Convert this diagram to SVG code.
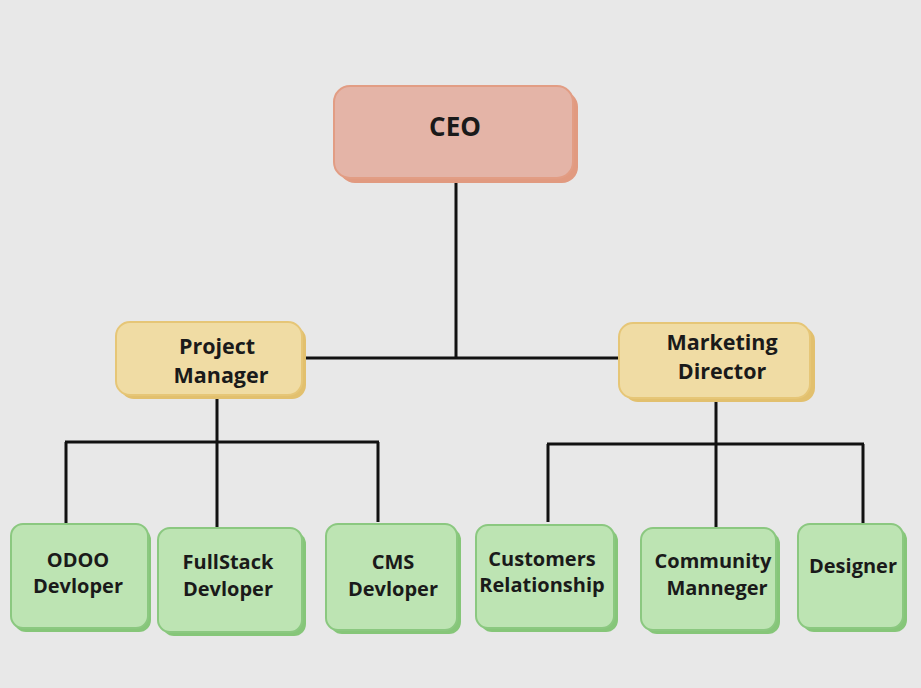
<svg xmlns="http://www.w3.org/2000/svg" width="921" height="688" viewBox="0 0 921 688">
<style>
text{font-family:"Open Sans","Noto Sans","DejaVu Sans",sans-serif;font-weight:bold;fill:#1a1a1a;text-anchor:middle}
.lbl{font-size:20px}
.mid{font-size:21.5px}
.ceo-sh{fill:#e19a80}
.ceo{fill:#e4b4a7;stroke:#e29d84;stroke-width:2}
.mg-sh{fill:#e2c06e}
.mg{fill:#f0dca4;stroke:#e6c677;stroke-width:2}
.gr-sh{fill:#86c679}
.gr{fill:#bde4b3;stroke:#8bc880;stroke-width:2}
.conn{stroke:#111;stroke-width:3;fill:none}
</style>
<rect width="921" height="688" fill="#e8e8e8"/>
<g id="connectors">
<path class="conn" d="M456 180 V358 M302 358 H619"/>
<path class="conn" d="M217 396 V528 M65 442 H379 M66 442 V523 M378 442 V522"/>
<path class="conn" d="M716 400 V528 M547 444 H864 M548 444 V522 M863 444 V524"/>
</g>
<g id="ceo">
<rect class="ceo-sh" x="339" y="91" width="239" height="92" rx="16"/>
<rect class="ceo" x="334" y="86" width="239" height="92" rx="16"/>
<text x="455" y="136" style="font-size:26px">CEO</text>
</g>
<g id="project-manager">
<rect class="mg-sh" x="120" y="326" width="186" height="73" rx="14"/>
<rect class="mg" x="116" y="322" width="186" height="73" rx="14"/>
<text class="mid" x="217" y="354">Project</text>
<text class="mid" x="221" y="383">Manager</text>
</g>
<g id="marketing-director">
<rect class="mg-sh" x="624" y="327" width="191" height="75" rx="14"/>
<rect class="mg" x="619" y="323" width="191" height="75" rx="14"/>
<text class="mid" x="722" y="350">Marketing</text>
<text class="mid" x="722" y="379">Director</text>
</g>
<g id="odoo-developer">
<rect class="gr-sh" x="14" y="528" width="137" height="104" rx="12"/>
<rect class="gr" x="11" y="524" width="137" height="104" rx="12"/>
<text class="lbl" x="78" y="567">ODOO</text>
<text class="lbl" x="78" y="593">Devloper</text>
</g>
<g id="fullstack-developer">
<rect class="gr-sh" x="162" y="532" width="144" height="104" rx="12"/>
<rect class="gr" x="158" y="528" width="144" height="104" rx="12"/>
<text class="lbl" x="228" y="569">FullStack</text>
<text class="lbl" x="228" y="596">Devloper</text>
</g>
<g id="cms-developer">
<rect class="gr-sh" x="330" y="528" width="131" height="106" rx="12"/>
<rect class="gr" x="326" y="524" width="131" height="106" rx="12"/>
<text class="lbl" x="393" y="569">CMS</text>
<text class="lbl" x="393" y="596">Devloper</text>
</g>
<g id="customers-relationship">
<rect class="gr-sh" x="480" y="529" width="138" height="103" rx="12"/>
<rect class="gr" x="476" y="525" width="138" height="103" rx="12"/>
<text class="lbl" x="542" y="566">Customers</text>
<text class="lbl" x="542" y="592">Relationship</text>
</g>
<g id="community-manager">
<rect class="gr-sh" x="645" y="532" width="135" height="102" rx="12"/>
<rect class="gr" x="641" y="528" width="135" height="102" rx="12"/>
<text class="lbl" x="713" y="568">Community</text>
<text class="lbl" x="717" y="595">Manneger</text>
</g>
<g id="designer">
<rect class="gr-sh" x="802" y="528" width="105" height="104" rx="12"/>
<rect class="gr" x="798" y="524" width="105" height="104" rx="12"/>
<text class="lbl" x="853" y="573">Designer</text>
</g>
</svg>
